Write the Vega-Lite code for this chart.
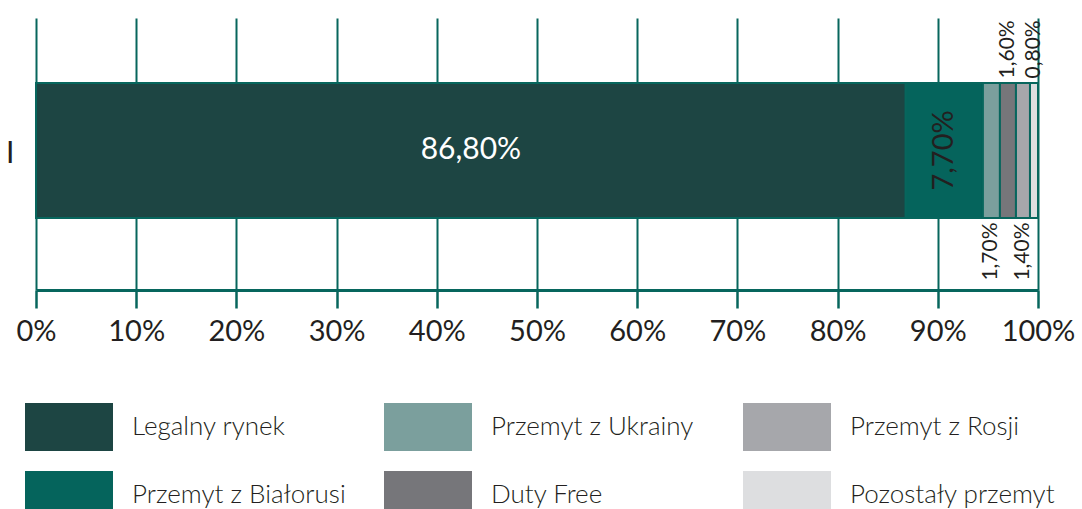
{
  "$schema": "https://vega.github.io/schema/vega-lite/v6.json",
  "width": 1002,
  "height": 272,
  "autosize": {"type": "none"},
  "padding": {"left": 36, "top": 18, "right": 44, "bottom": 219},
  "background": "white",
  "config": {
    "locale": {"number": {"decimal": ",", "thousands": " ", "grouping": [3], "currency": ["", " zł"]}},
    "view": {"stroke": null},
    "font": "Lato",
    "axisX": {
      "domainColor": "#07665d", "domainWidth": 3,
      "tickColor": "#07665d", "tickWidth": 2.5, "tickSize": 18,
      "grid": true, "gridColor": "#07665d", "gridWidth": 2, "gridOpacity": 1,
      "labelFontSize": 29, "labelColor": "#231f20", "labelPadding": 9, "labelFont": "Lato",
      "labelFlush": false, "labelOverlap": false
    },
    "axisY": {
      "domain": false, "ticks": false, "grid": false,
      "labelFontSize": 30, "labelColor": "#231f20", "labelPadding": 22, "labelOffset": 4,
      "labelFont": "Lato"
    }
  },
  "data": {"values": [
    {"row": "I", "category": "Legalny rynek", "share": 0.868},
    {"row": "I", "category": "Przemyt z Białorusi", "share": 0.077},
    {"row": "I", "category": "Przemyt z Ukrainy", "share": 0.017},
    {"row": "I", "category": "Duty Free", "share": 0.016},
    {"row": "I", "category": "Przemyt z Rosji", "share": 0.014},
    {"row": "I", "category": "Pozostały przemyt", "share": 0.008}
  ]},
  "transform": [
    {"stack": "share", "groupby": ["row"], "as": ["x0", "x1"]},
    {"calculate": "(datum.x0 + datum.x1) / 2", "as": "xm"}
  ],
  "encoding": {
    "y": {"field": "row", "type": "nominal", "title": null,
          "scale": {"paddingInner": 0, "paddingOuter": 0.507, "align": 0.474}}
  },
  "layer": [
    {
      "mark": {"type": "bar", "stroke": "#07665d", "strokeWidth": 2},
      "encoding": {
        "x": {"field": "x0", "type": "quantitative", "title": null,
              "scale": {"domain": [0, 1], "nice": false},
              "axis": {"format": ".0%", "values": [0, 0.1, 0.2, 0.3, 0.4, 0.5, 0.6, 0.7, 0.8, 0.9, 1]}},
        "x2": {"field": "x1"},
        "color": {
          "field": "category", "type": "nominal", "title": null,
          "scale": {
            "domain": ["Legalny rynek", "Przemyt z Białorusi", "Przemyt z Ukrainy", "Duty Free", "Przemyt z Rosji", "Pozostały przemyt"],
            "range": ["#1d4543", "#05645c", "#7b9f9d", "#76767a", "#a6a7ab", "#dddee0"]
          },
          "legend": {
            "values": ["Legalny rynek", "Przemyt z Ukrainy", "Przemyt z Rosji", "Przemyt z Białorusi", "Duty Free", "Pozostały przemyt"],
            "orient": "none", "legendX": -11, "legendY": 365, "columns": 3, "direction": "horizontal",
            "symbolType": "M-1,-0.545H1V0.545H-1Z", "symbolSize": 7744, "symbolStrokeWidth": 0, "symbolOpacity": 1,
            "labelFontSize": 26, "labelFont": "Lato", "labelFontWeight": 300, "labelColor": "#231f20",
            "labelOffset": 19, "rowPadding": -40, "columnPadding": 38, "gridAlign": "all", "labelLimit": 400
          }
        }
      }
    },
    {
      "transform": [{"filter": "datum.category === 'Legalny rynek'"}],
      "mark": {"type": "text", "color": "white", "fontSize": 30, "font": "Lato", "baseline": "middle"},
      "encoding": {
        "x": {"field": "xm", "type": "quantitative", "title": null},
        "text": {"field": "share", "type": "quantitative", "format": ".2%"}
      }
    },
    {
      "transform": [{"filter": "datum.category === 'Przemyt z Białorusi'"}],
      "mark": {"type": "text", "color": "#231f20", "fontSize": 29, "font": "Lato", "angle": 270, "baseline": "middle"},
      "encoding": {
        "x": {"field": "xm", "type": "quantitative", "title": null},
        "text": {"field": "share", "type": "quantitative", "format": ".2%"}
      }
    },
    {
      "transform": [{"filter": "datum.category === 'Duty Free' || datum.category === 'Pozostały przemyt'"}],
      "mark": {"type": "text", "color": "#231f20", "fontSize": 21, "font": "Lato", "angle": 270, "align": "left", "baseline": "middle", "dx": 72},
      "encoding": {
        "x": {"field": "xm", "type": "quantitative", "title": null},
        "text": {"field": "share", "type": "quantitative", "format": ".2%"}
      }
    },
    {
      "transform": [{"filter": "datum.category === 'Przemyt z Ukrainy' || datum.category === 'Przemyt z Rosji'"}],
      "mark": {"type": "text", "color": "#231f20", "fontSize": 21, "font": "Lato", "angle": 270, "align": "right", "baseline": "middle", "dx": -72},
      "encoding": {
        "x": {"field": "xm", "type": "quantitative", "title": null},
        "text": {"field": "share", "type": "quantitative", "format": ".2%"}
      }
    }
  ]
}
